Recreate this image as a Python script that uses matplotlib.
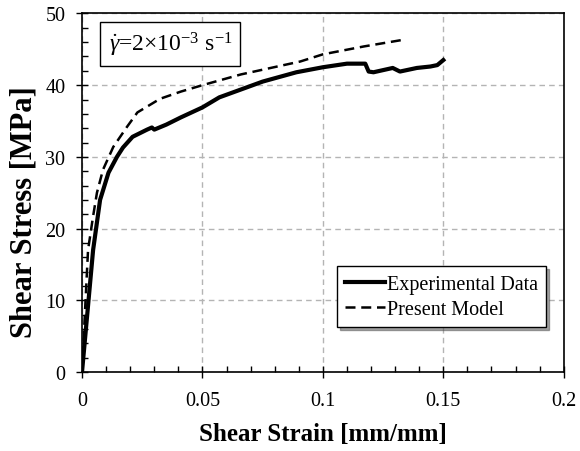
import matplotlib
matplotlib.use('Agg')
import matplotlib.pyplot as plt
from matplotlib.ticker import MultipleLocator

plt.rcParams['font.family'] = ['Liberation Serif', 'DejaVu Serif']
plt.rcParams['mathtext.fontset'] = 'custom'
plt.rcParams['mathtext.rm'] = 'Liberation Serif'
plt.rcParams['mathtext.it'] = 'Liberation Serif:italic'

exp_strain = [0, 0.0046, 0.0075, 0.011, 0.0145, 0.017, 0.021, 0.027, 0.029, 0.030,
              0.035, 0.041, 0.05, 0.057, 0.066, 0.075, 0.089, 0.100, 0.110, 0.1176,
              0.119, 0.121, 0.129, 0.132, 0.139, 0.1446, 0.1475, 0.150]
exp_stress = [0, 17.0, 24.0, 27.8, 30.0, 31.3, 32.8, 33.8, 34.1, 33.8,
              34.5, 35.5, 36.9, 38.3, 39.4, 40.5, 41.8, 42.5, 43.0, 43.0,
              41.9, 41.8, 42.4, 41.9, 42.4, 42.6, 42.8, 43.5]

# present model
mod_strain = [0, 0.0025, 0.0045, 0.0062, 0.0087, 0.013, 0.0187, 0.023, 0.0324, 0.041,
              0.05, 0.066, 0.0906, 0.1, 0.117, 0.1346]
mod_stress = [0, 17.0, 21.5, 25.0, 28.2, 31.4, 34.2, 36.2, 38.1, 39.1,
              40.0, 41.5, 43.3, 44.3, 45.4, 46.4]

xticks = [0, 0.05, 0.1, 0.15, 0.2]
xtick_labels = ['0', '0.05', '0.1', '0.15', '0.2']

fig = plt.figure(figsize=(5.8, 4.52), dpi=100)
ax = fig.add_axes([0.1414, 0.1748, 0.8306, 0.7932])

ax.plot(exp_strain, exp_stress, color='black', lw=3.0, label='Experimental Data', zorder=3)
ax.plot(mod_strain, mod_stress, color='black', lw=1.8, ls=(0, (4, 2.3)), label='Present Model', zorder=3)

ax.set_xlim(0, 0.2)
ax.set_ylim(0, 50)
ax.set_xticks(xticks)
ax.set_xticklabels(xtick_labels)
ax.xaxis.set_minor_locator(MultipleLocator(0.01))
ax.yaxis.set_major_locator(MultipleLocator(10))
ax.yaxis.set_minor_locator(MultipleLocator(2))
ax.tick_params(which='major', direction='inout', length=8, width=1, labelsize=14.5)
ax.tick_params(axis='x', which='major', pad=10)
ax.tick_params(axis='y', which='major', pad=8)
ax.tick_params(which='minor', direction='in', length=4, width=1)
ax.grid(which='major', color='#b4b4b4', ls=(0, (4, 3)), lw=1)
for s in ax.spines.values():
    s.set_linewidth(1.2)

ax.set_xlabel('Shear Strain [mm/mm]', fontsize=18, fontweight='bold', labelpad=8)
ax.set_ylabel('Shear Stress [MPa]', fontsize=22, fontweight='bold')
ax.yaxis.set_label_coords(-0.09, 0.45)

leg = ax.legend(loc='lower right', bbox_to_anchor=(0.985, 0.098), fontsize=14.5, fancybox=False,
                shadow=True, edgecolor='black', framealpha=1, handlelength=2.0,
                handletextpad=0.1, borderpad=0.4, labelspacing=0.3)
leg.get_frame().set_linewidth(1)

ax.text(0.055, 0.915, r'$\dot{\gamma}$=2×10$^{\mathrm{-3}}$ s$^{\mathrm{-1}}$', transform=ax.transAxes,
        fontsize=17, ha='left', va='center',
        bbox=dict(boxstyle='square,pad=0.35', fc='white', ec='black', lw=1))

fig.savefig('out.png', dpi=100)
